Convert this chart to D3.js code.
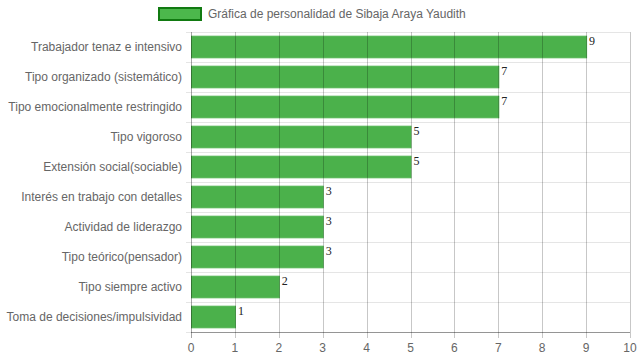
<!DOCTYPE html>
<html><head><meta charset="utf-8">
<script src="https://cdn.jsdelivr.net/npm/d3@7"></script>
<style>body{margin:0;background:#fff}svg{display:block}</style>
</head><body>
<script>
const categories = ["Trabajador tenaz e intensivo","Tipo organizado (sistemático)","Tipo emocionalmente restringido","Tipo vigoroso","Extensión social(sociable)","Interés en trabajo con detalles","Actividad de liderazgo","Tipo teórico(pensador)","Tipo siempre activo","Toma de decisiones/impulsividad"];
const values = [9,7,7,5,5,3,3,3,2,1];
const xTicks = [0,1,2,3,4,5,6,7,8,9,10];
const seriesName = "Gráfica de personalidad de Sibaja Araya Yaudith";

const W=639,H=360, m={l:191,r:9,t:32,b:28};
const svg=d3.select("body").append("svg").attr("width",W).attr("height",H);
const x=d3.scaleLinear().domain([0,10]).range([m.l,W-m.r]);
const y=d3.scaleBand().domain(categories).range([m.t,H-m.b]).paddingInner(0).paddingOuter(0);
const font="'Liberation Sans', Arial, sans-serif";

// horizontal gridlines (category boundaries)
const bounds = categories.map(c=>y(c)).concat([y(categories[categories.length-1])+y.bandwidth()]);
svg.append("g").selectAll("line").data(bounds).join("line")
  .attr("x1",m.l-5).attr("x2",W-m.r).attr("y1",d=>Math.round(d)+0.5).attr("y2",d=>Math.round(d)+0.5)
  .attr("stroke","#e5e5e5");

// bars
const bw=y.bandwidth()*0.72;
svg.append("g").selectAll("rect").data(values).join("rect")
  .attr("x",x(0)+0.5).attr("y",(d,i)=>y(categories[i])+(y.bandwidth()-bw)/2)
  .attr("width",d=>x(d)-x(0)).attr("height",bw)
  .attr("fill","rgba(60,170,60,0.92)").attr("stroke","#4fb44f").attr("stroke-width",1);

// vertical gridlines (over bars, semi-transparent)
svg.append("g").selectAll("line").data(xTicks).join("line")
  .attr("x1",d=>Math.round(x(d))+0.5).attr("x2",d=>Math.round(x(d))+0.5)
  .attr("y1",m.t).attr("y2",H-m.b+6)
  .attr("stroke",(d)=>d===0?"rgba(0,0,0,0.35)":"rgba(0,0,0,0.22)");

// x axis line
svg.append("line").attr("x1",m.l).attr("x2",W-m.r).attr("y1",H-m.b+0.5).attr("y2",H-m.b+0.5).attr("stroke","rgba(0,0,0,0.35)");

// x tick labels
svg.append("g").selectAll("text").data(xTicks).join("text")
  .attr("x",d=>x(d)).attr("y",H-m.b+20).attr("text-anchor","middle")
  .attr("font-family",font).attr("font-size",12).attr("fill","#666").text(d=>d);

// y labels
svg.append("g").selectAll("text").data(categories).join("text")
  .attr("x",m.l-9).attr("y",d=>y(d)+y.bandwidth()/2+4).attr("text-anchor","end")
  .attr("font-family",font).attr("font-size",12).attr("fill","#666").text(d=>d);

// value labels
svg.append("g").selectAll("text").data(values).join("text")
  .attr("x",d=>x(d)+3).attr("y",(d,i)=>y(categories[i])+(y.bandwidth()-bw)/2+9)
  .attr("font-family","'Liberation Serif', 'Times New Roman', serif").attr("font-size",12).attr("fill","#222").text(d=>d);

// legend
svg.append("rect").attr("x",159).attr("y",8).attr("width",42).attr("height",12)
  .attr("fill","#4cb84c").attr("stroke","#117a11").attr("stroke-width",2);
svg.append("text").attr("x",208).attr("y",18).attr("font-family",font).attr("font-size",12).attr("fill","#666").text(seriesName);
</script>
</body></html>
